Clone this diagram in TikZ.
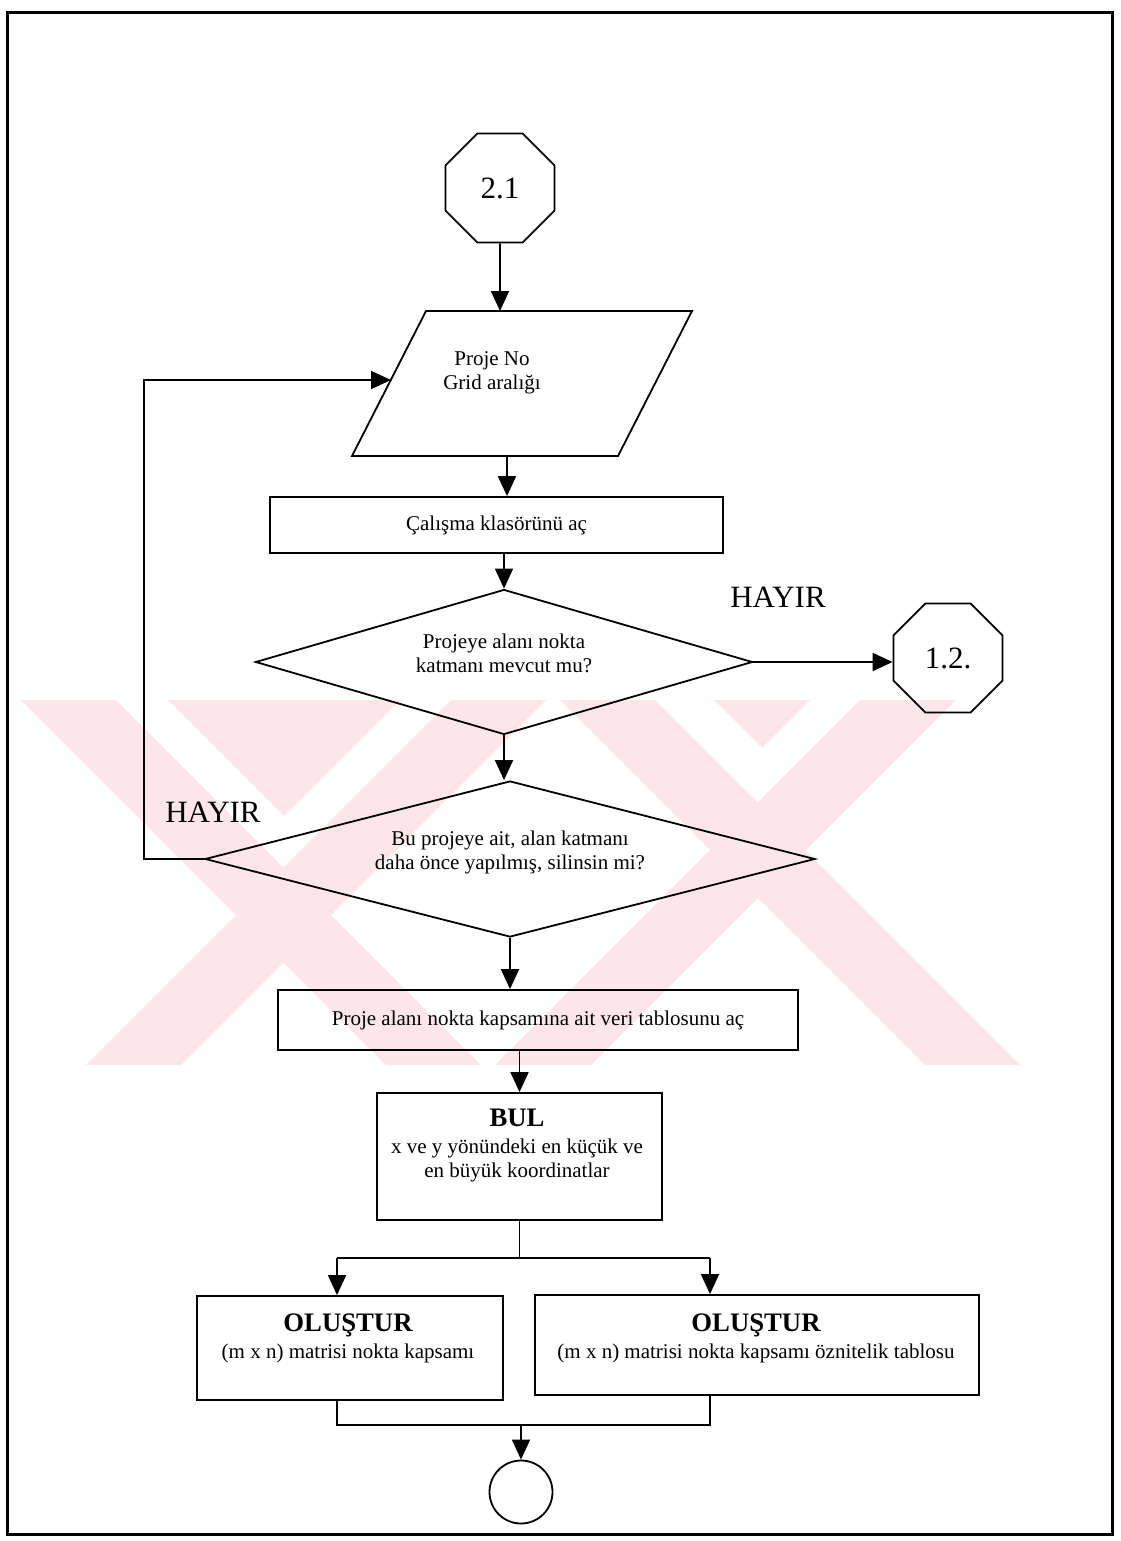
\documentclass[tikz,border=0pt]{standalone}
\usepackage{fontspec}
\setmainfont{Liberation Serif}
\usetikzlibrary{shapes.geometric,arrows.meta,calc}
\definecolor{wm}{RGB}{252,230,234}
\begin{document}
\begin{tikzpicture}[x=1pt,y=-1pt,line width=1.8pt,
  arr/.style={-{Triangle[length=20pt,width=18pt]}},
  box/.style={draw,rectangle,inner sep=0pt},
  oct/.style={draw,regular polygon,regular polygon sides=8,minimum size=118pt,inner sep=0pt},
  dec/.style={draw,diamond,inner sep=0pt,align=center,text depth=17pt},
  body/.style={font=\fontsize{21}{24}\selectfont,align=center},
  big/.style={font=\fontsize{31}{34}\selectfont},
  ttl/.style={font=\fontsize{26.7}{28}\selectfont\bfseries}]
\useasboundingbox (0,0) rectangle (1120,1541);
% watermark
\begin{scope}
\clip (9,700) rectangle (1110,1065);
\fill[wm] (21,700) -- (116,700) -- (481,1065) -- (386,1065) -- cycle;
\fill[wm] (451,700) -- (546,700) -- (181,1065) -- (86,1065) -- cycle;
\fill[wm] (168,700) -- (400,700) -- (284,816) -- cycle;
\fill[wm] (560,700) -- (655,700) -- (1020,1065) -- (925,1065) -- cycle;
\fill[wm] (860,700) -- (956,700) -- (591,1065) -- (495,1065) -- cycle;
\fill[wm] (714,700) -- (810,700) -- (762,748) -- cycle;
\end{scope}
% frame
\draw[line width=3pt] (7,13) rectangle (1112,1534);
% input parallelogram
\coordinate (pTL) at (426,311);
\coordinate (pTR) at (692,311);
\coordinate (pBR) at (618,456);
\coordinate (pBL) at (352,456);
\draw (pTL) -- (pTR) -- (pBR) -- (pBL) -- cycle;
\coordinate (parN) at (500,311);
\coordinate (parS) at (507,456);
\coordinate (parW) at (391,380);
% nodes
\node[oct,big] (o21) at (500,188) {2.1};
\node[body] (par) at (492,373) {Proje No\\Grid aralığı};
\node[box,body,minimum width=453pt,minimum height=56pt] (b1) at (496.5,525) {Çalışma klasörünü aç};
\node[dec,body,aspect=3.4,minimum width=497pt,minimum height=145pt] (dia1) at (504,662) {Projeye alanı nokta\\katmanı mevcut mu?};
\node[oct,big] (o12) at (948,658) {1.2.};
\node[big] (h1) at (778,597) {HAYIR};
\node[dec,body,aspect=3.9,minimum width=610pt,minimum height=156pt] (dia2) at (510,859) {Bu projeye ait, alan katmanı\\daha önce yapılmış, silinsin mi?};
\node[big] (h2) at (213,812) {HAYIR};
\node[box,body,minimum width=520pt,minimum height=60pt] (b3) at (538,1020) {Proje alanı nokta kapsamına ait veri tablosunu aç};
\node[box,minimum width=285pt,minimum height=127pt] (bul) at (519.5,1156.5) {};
\node[body] (bultxt) at (517,1146) {{\fontsize{26.7}{28}\selectfont\bfseries BUL}\\[3pt]x ve y yönündeki en küçük ve\\en büyük koordinatlar};
\node[box,minimum width=306pt,minimum height=104pt] (ol) at (350,1348) {};
\node[body] (oltxt) at (348,1338) {{\fontsize{26.7}{28}\selectfont\bfseries OLUŞTUR}\\[3pt](m x n) matrisi nokta kapsamı};
\node[box,minimum width=444pt,minimum height=100pt] (orr) at (757,1345) {};
\node[body] (ortxt) at (756,1338) {{\fontsize{26.7}{28}\selectfont\bfseries OLUŞTUR}\\[3pt](m x n) matrisi nokta kapsamı öznitelik tablosu};
\node[draw,circle,minimum size=63pt,inner sep=0pt] (end) at (521,1492) {};
% connectors
\draw[arr] (o21.south) -- (parN);
\draw[arr] (parS) -- (parS |- b1.north);
\draw[arr] (b1.south -| dia1.north) -- (dia1.north);
\draw[arr] (dia1.east) -- (dia1.east -| o12.west);
\draw[arr] (dia1.south) -- (dia1.south |- dia2.north);
\draw[arr] (dia2.west) -- ++(-60,0) |- (parW);
\draw[arr] (dia2.south) -- (dia2.south |- b3.north);
\draw[arr] (bul.north |- b3.south) -- (bul.north);
\coordinate (spl) at (337,1258);
\coordinate (spr) at (710,1258);
\draw (bul.south) -- (bul.south |- spl);
\draw (spl) -- (spr);
\draw[arr] (spl) -- (spl |- ol.north);
\draw[arr] (spr) -- (spr |- orr.north);
\coordinate (mgl) at (337,1425);
\coordinate (mgr) at (710,1425);
\draw (mgl |- ol.south) -- (mgl) -- (mgr) -- (mgr |- orr.south);
\draw[arr] (end.north |- mgl) -- (end.north);
\end{tikzpicture}
\end{document}
